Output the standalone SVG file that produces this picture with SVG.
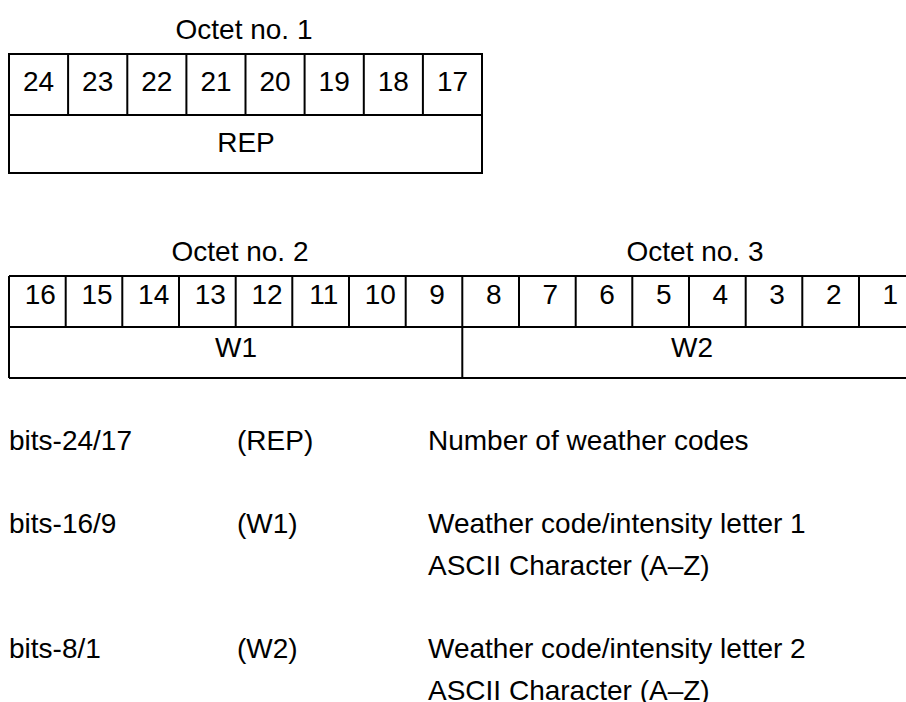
<svg xmlns="http://www.w3.org/2000/svg" width="906" height="702" viewBox="0 0 906 702">
<style>
text{font-family:"Liberation Sans",Arial,sans-serif;font-size:28px;fill:#000}
.c{text-anchor:middle}
.ln{stroke:#000;stroke-width:2;fill:none}
</style>
<rect width="906" height="702" fill="#fff"/>
<g id="octet1">
<text class="c" x="244" y="39">Octet no. 1</text>
<rect class="ln" x="9" y="54" width="473" height="119"/>
<path class="ln" d="M9 115H482M68.1 54V115M127.3 54V115M186.4 54V115M245.5 54V115M304.6 54V115M363.8 54V115M422.9 54V115"/>
<text class="c" x="38.5" y="91">24</text>
<text class="c" x="97.7" y="91">23</text>
<text class="c" x="156.8" y="91">22</text>
<text class="c" x="216" y="91">21</text>
<text class="c" x="275" y="91">20</text>
<text class="c" x="334.2" y="91">19</text>
<text class="c" x="393.3" y="91">18</text>
<text class="c" x="452.5" y="91">17</text>
<text class="c" x="246" y="152">REP</text>
</g>
<g id="octet23">
<text class="c" x="240" y="261">Octet no. 2</text>
<text class="c" x="695" y="261">Octet no. 3</text>
<path class="ln" d="M9 276H906M9 327H906M9 378H906M9 276V378M462.3 276V378M65.7 276V327M122.3 276V327M179 276V327M235.7 276V327M292.3 276V327M349 276V327M405.7 276V327M519 276V327M575.7 276V327M632.3 276V327M689 276V327M745.7 276V327M802.3 276V327M859 276V327"/>
<text class="c" x="40.3" y="304">16</text>
<text class="c" x="97" y="304">15</text>
<text class="c" x="153.7" y="304">14</text>
<text class="c" x="210.3" y="304">13</text>
<text class="c" x="267" y="304">12</text>
<text class="c" x="323.7" y="304">11</text>
<text class="c" x="380.3" y="304">10</text>
<text class="c" x="437" y="304">9</text>
<text class="c" x="493.7" y="304">8</text>
<text class="c" x="550.3" y="304">7</text>
<text class="c" x="607" y="304">6</text>
<text class="c" x="663.7" y="304">5</text>
<text class="c" x="720.3" y="304">4</text>
<text class="c" x="777" y="304">3</text>
<text class="c" x="833.7" y="304">2</text>
<text class="c" x="890.3" y="304">1</text>
<text class="c" x="236" y="357">W1</text>
<text class="c" x="692" y="357">W2</text>
</g>
<g id="legend">
<text x="9" y="450">bits-24/17</text>
<text x="237" y="450">(REP)</text>
<text x="428" y="450">Number of weather codes</text>
<text x="9" y="533">bits-16/9</text>
<text x="237" y="533">(W1)</text>
<text x="428" y="533">Weather code/intensity letter 1</text>
<text x="428" y="575">ASCII Character (A–Z)</text>
<text x="9" y="658">bits-8/1</text>
<text x="237" y="658">(W2)</text>
<text x="428" y="658">Weather code/intensity letter 2</text>
<text x="428" y="700">ASCII Character (A–Z)</text>
</g>
</svg>
